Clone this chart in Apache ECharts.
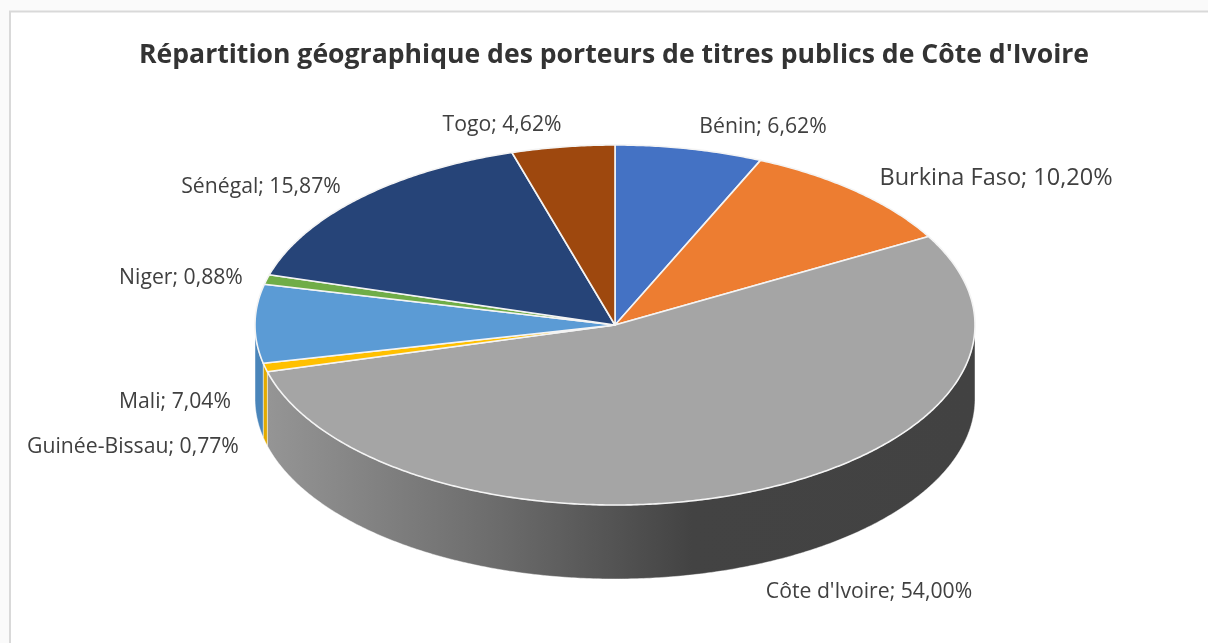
<!DOCTYPE html>
<html>
<head>
<meta charset="utf-8">
<style>html,body{margin:0;padding:0;background:#fafafa}#chart{width:1208px;height:643px}</style>
<script src="https://cdn.jsdelivr.net/npm/echarts@6/dist/echarts.min.js"></script>
</head>
<body>
<div id="chart"></div>
<script>
const titleText = "Répartition géographique des porteurs de titres publics de Côte d'Ivoire";
const countries = ['Bénin', 'Burkina Faso', "Côte d'Ivoire", 'Guinée-Bissau', 'Mali', 'Niger', 'Sénégal', 'Togo'];
const shares = [6.62, 10.20, 54.00, 0.77, 7.04, 0.88, 15.87, 4.62];
const topColors = ['#4472c4', '#ed7d31', '#a5a5a5', '#ffc000', '#5b9bd5', '#70ad47', '#264478', '#9e480e'];
const wallColors = ['#365b9d', '#bd6427', null, '#e3ab00', '#4a85ba', '#5a8a39', '#1e3660', '#7e390b'];
// label centres, in page pixels
const labelX = [763, 996, 869, 133, 175, 181, 261, 502];
const labelY = [127, 178, 592, 447, 402, 278, 187, 125];

const cx = 615, cy = 325, rx = 360, ry = 180, depth = 74;
const total = shares.reduce((a, b) => a + b, 0);

function rim(deg, dy) {
  const t = deg * Math.PI / 180;
  return [cx + rx * Math.sin(t), cy - ry * Math.cos(t) + dy];
}

function arc(a0, a1, dy) {
  const n = Math.max(2, Math.ceil(Math.abs(a1 - a0) * 2));
  const pts = [];
  for (let i = 0; i <= n; i++) pts.push(rim(a0 + (a1 - a0) * i / n, dy));
  return pts;
}

function startAngle(i) {
  let s = 0;
  for (let k = 0; k < i; k++) s += shares[k];
  return s / total * 360;
}

const wallGradient = new echarts.graphic.LinearGradient(0, 0, 1, 0, [
  { offset: 0, color: '#959595' },
  { offset: 0.33, color: '#6b6b6b' },
  { offset: 0.6, color: '#434343' },
  { offset: 1, color: '#424242' }
]);

function renderSlice(params, api) {
  const i = params.dataIndex;
  const a0 = startAngle(i);
  const a1 = a0 + api.value(0) / total * 360;
  const children = [];
  // the side wall only shows on the front half of the disc
  const w0 = Math.max(a0, 90), w1 = Math.min(a1, 270);
  if (w1 > w0) {
    children.push({
      type: 'polygon',
      z2: 1,
      shape: { points: arc(w0, w1, 0).concat(arc(w1, w0, depth)) },
      style: { fill: wallColors[i] || wallGradient, stroke: 'rgba(255,255,255,0.45)', lineWidth: 1 }
    });
  }
  children.push({
    type: 'polygon',
    z2: 2,
    shape: { points: [[cx, cy]].concat(arc(a0, a1, 0)) },
    style: { fill: topColors[i], stroke: '#f4f4f4', lineWidth: 1.6, lineJoin: 'round' }
  });
  children.push({
    type: 'text',
    z2: 3,
    style: {
      x: labelX[i],
      y: labelY[i],
      text: countries[i] + '; ' + api.value(0).toFixed(2).replace('.', ',') + '%',
      align: 'center',
      verticalAlign: 'middle',
      fill: '#404040',
      font: (countries[i] === 'Burkina Faso' ? 23.5 : 21.2) + 'px "Open Sans"'
    }
  });
  return { type: 'group', children: children };
}

const chart = echarts.init(document.getElementById('chart'), null, { renderer: 'canvas' });
chart.setOption({
  animation: false,
  backgroundColor: '#fafafa',
  graphic: [{
    type: 'rect',
    z: -10,
    shape: { x: 10, y: 11.5, width: 1300, height: 800 },
    style: { fill: '#fff', stroke: '#d9d9d9', lineWidth: 2 }
  }],
  title: {
    text: titleText,
    left: 609,
    top: 37,
    textAlign: 'center',
    textStyle: { fontFamily: 'Open Sans', fontWeight: 'bold', fontSize: 26.6, color: '#333' }
  },
  series: [{
    type: 'custom',
    coordinateSystem: 'none',
    renderItem: renderSlice,
    data: shares.map((v, i) => ({ name: countries[i], value: v }))
  }]
});
</script>
</body>
</html>
